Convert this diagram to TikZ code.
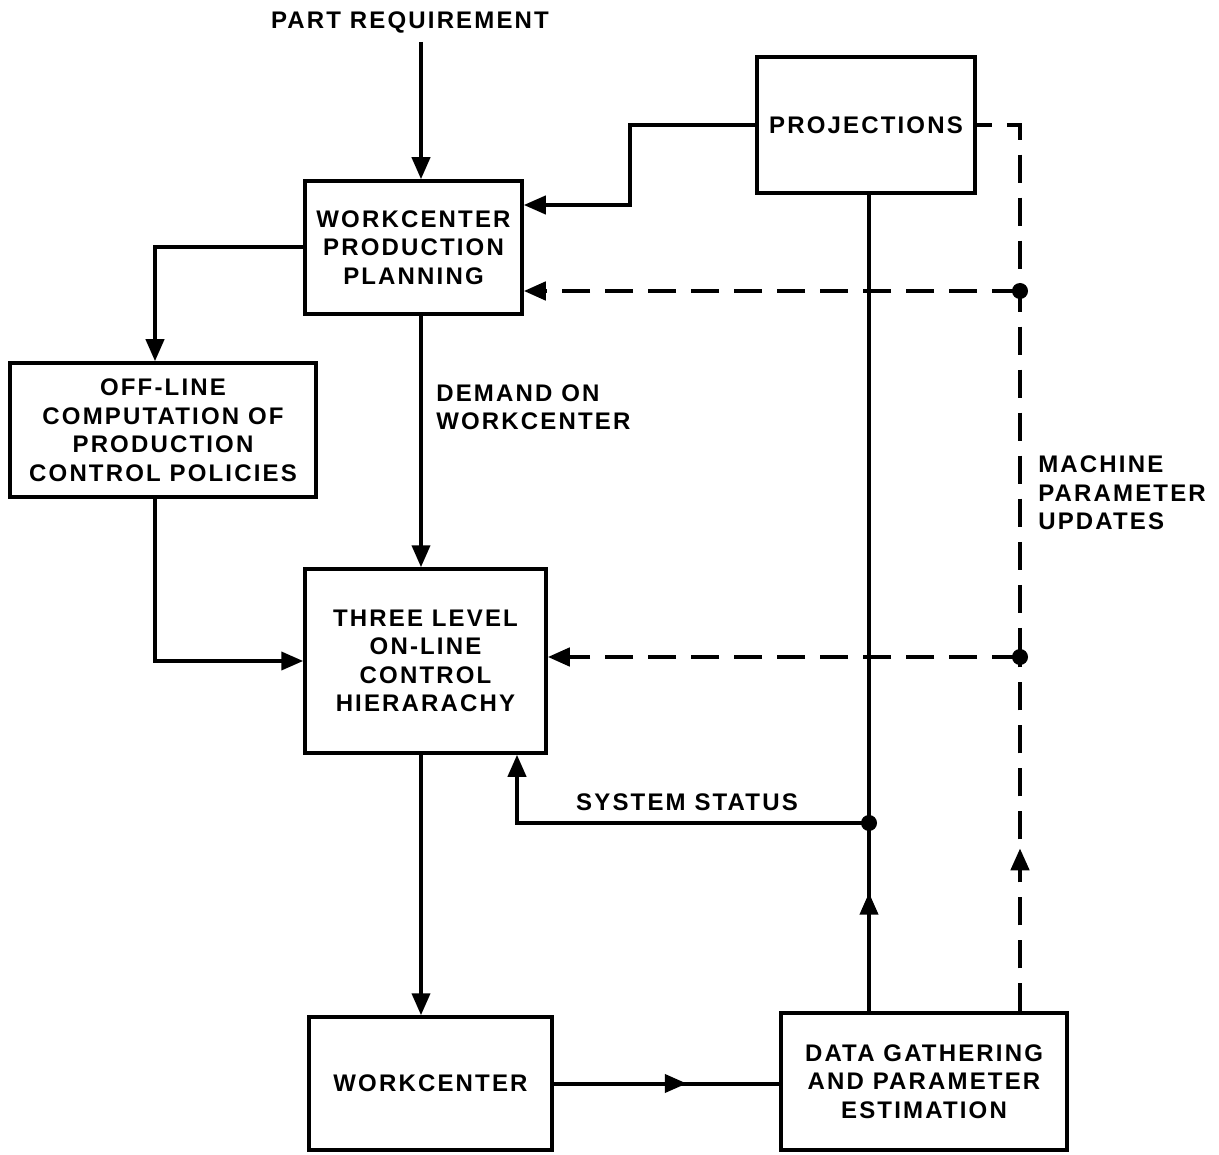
\documentclass[tikz,border=0pt]{standalone}
\usepackage{fontspec}
\newfontfamily\ltfam{Liberation Sans Bold}[LetterSpace=9]
\newcommand{\lt}{\ltfam\fontsize{24}{28.5}\selectfont}
\usetikzlibrary{arrows.meta,decorations.markings}
\tikzset{
  box/.style 2 args={draw, line width=3.5pt, minimum width=#1, minimum height=#2, align=center, inner sep=0pt},
  dsh/.style={dash pattern=on 28pt off 15pt, line width=4.5pt},
  midarrow/.style={postaction={decorate}, decoration={markings, mark=at position #1 with {\arrow{Triangle[length=22pt,width=18pt]}}}},
  dot/.style={fill, circle, inner sep=0pt, minimum size=16pt},
}
\begin{document}
\begin{tikzpicture}[x=1pt, y=-1pt, line width=4pt, >={Triangle[length=22pt,width=18pt]}, every node/.append style={font=\lt}]
\useasboundingbox (0,0) rectangle (1219,1155);
\fill[white] (0,0) rectangle (1219,1155);

% boxes
\node[box={217pt}{133pt}] (plan) at (413.5,247.5) {WORKCENTER\\PRODUCTION\\PLANNING};
\node[box={218pt}{136pt}] (proj) at (866,125) {PROJECTIONS};
\node[box={306pt}{134pt}] (offl) at (163,430) {OFF-LINE\\COMPUTATION OF\\PRODUCTION\\CONTROL POLICIES};
\node[box={241pt}{184pt}] (three) at (425.5,661) {THREE LEVEL\\ON-LINE\\CONTROL\\HIERARACHY};
\node[box={243pt}{133pt}] (wc) at (430.5,1083.5) {WORKCENTER};
\node[box={286pt}{137pt}] (dg) at (924,1081.5) {DATA GATHERING\\AND PARAMETER\\ESTIMATION};

% labels
\node (preq) at (410,22) {PART REQUIREMENT};
\node[anchor=west, align=left] (dem) at (431,407) {DEMAND ON\\WORKCENTER};
\node (sys) at (687,802) {SYSTEM STATUS};
\node[anchor=west, align=left] (mpu) at (1033,493) {MACHINE\\PARAMETER\\UPDATES};

% helper coordinates
\coordinate (p0) at (421,42);
\coordinate (cx) at (421,0);
\coordinate (c155) at (155,0);
\coordinate (c517) at (517,0);
\coordinate (b1) at (630,205);
\coordinate (d1) at (1020,291);
\coordinate (d2) at (1020,657);
\coordinate (d3) at (869,823);

% solid connectors
\draw[->] (p0) -- (plan.north -| p0);
\draw[->] (proj.west) -| (b1) -- (b1 -| plan.east);
\draw[->] (plan.west) -| (offl.north -| c155);
\draw[->] (plan.south -| cx) -- (three.north -| cx);
\draw[->] (offl.south -| c155) |- (three.west);
\draw[->] (three.south -| cx) -- (wc.north -| cx);
\draw[midarrow=0.59] (wc.east) -- (wc.east -| dg.west);
\draw[midarrow=0.63] (dg.north -| d3) -- (d3);
\draw (d3) -- (proj.south -| d3);
\draw[->] (d3) -| (three.south -| c517);

% dashed connectors
\draw[dsh, dash phase=13pt] (proj.east) -| (d1) -- (d2);
\draw[dsh, midarrow=0.46] (dg.north -| d1) -- (d2);
\draw[dsh, ->] (d1) -- (d1 -| plan.east);
\draw[dsh, ->] (d2) -- (d2 -| three.east);

% junction dots
\node[dot] (j1) at (d1) {};
\node[dot] (j2) at (d2) {};
\node[dot] (j3) at (d3) {};
\end{tikzpicture}
\end{document}
